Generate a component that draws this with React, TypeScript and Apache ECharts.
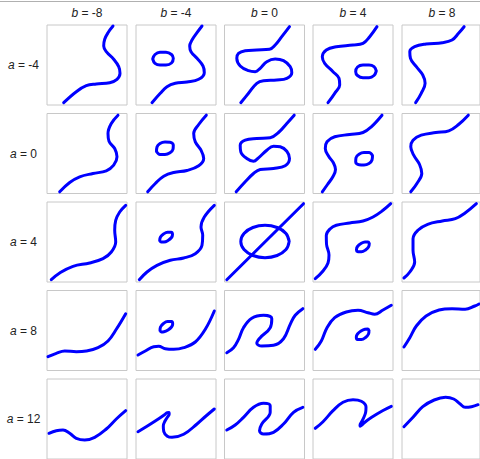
import React, { useEffect, useRef } from "react";
import * as echarts from "echarts";

const A_VALUES = [-4, 0, 4, 8, 12];
const B_VALUES = [-8, -4, 0, 4, 8];

// Curves, panel-local coordinates (x right, y down, 0..80)
const r1c1 = [[16.7,77.7],[29.3,66.7],[39.3,60.7],[49.3,59],[62.7,57.7],[70,54.3],[73,48.3],[71.7,41.7],[66.7,34.3],[59.3,26.7],[56.7,21],[57.7,14.3],[61,7.7],[66,1]];
const r1c2 = [[16,77.7],[24.3,68.3],[31,61.7],[39.3,58.3],[51,57],[62.7,54.3],[68.3,47.7],[67,41],[61,33.3],[55,26.7],[53.7,21],[56,15],[61,7.7],[66,1]];
const r1c2Loop = [[16.7,34],[19,29.5],[24,27.3],[30,27.3],[35.5,29.5],[37.3,33.3],[35.5,38],[30,40],[24,40],[19,38.3],[16.7,34]];
const r1c3 = [[16.3,77.7],[24,68.3],[32.3,58.3],[39,55.7],[52.3,55],[62.3,53.3],[67.3,47.7],[65.7,41.7],[59,35.7],[50.7,34],[42.3,36.7],[35.7,43.3],[30.7,46.7],[24,45.7],[15.7,41],[12.3,33.3],[14,28.3],[20.7,25.7],[32.3,25],[45,24.3],[50.7,20],[57.3,11.7],[65,1.7]];
const r1c4 = [[15,77.7],[21.7,68.3],[26.7,60],[26,53.3],[20,46.7],[11.7,38.3],[9.3,31.7],[13.3,25],[23.3,21.7],[40,20],[50,18.3],[56.7,11.7],[64,1.7]];
const r1c4Loop = [[63.3,46],[61,50.5],[56,52.7],[50,52.7],[44.5,50.5],[42.7,46.7],[44.5,42],[50,40],[56,40],[61,41.7],[63.3,46]];
const r1c5 = [[14,77.7],[19.7,68.3],[23.7,58.3],[21.3,50],[14.7,41.7],[8.7,33.3],[8,26.7],[13,21.7],[24.7,19],[41.3,17.7],[51.3,15],[58,8.3],[63.7,1.7]];

const r2c1 = [[12.7,78.3],[22.7,69],[32.7,63.3],[46,60],[59.3,57.3],[66.7,51.7],[70,43.3],[67.7,35],[62,27.7],[61,20],[64.3,10],[71,1.7]];
const r2c2 = [[11.7,78.3],[19.3,70],[27.7,62.7],[37.7,59],[51,57],[62.7,52.3],[67.7,45],[65,36.7],[59.3,28.3],[57.7,20],[62.7,11],[70.3,1.7]];
const r2c2Loop = [[20.5,38],[21,33.5],[24,30],[29,28.5],[34,28.7],[37.3,31.5],[37,35.7],[34,39.3],[29,41],[24,41],[20.5,38]];
const r2c3 = [[11.7,78.3],[20.7,68.3],[29,60],[35.7,56],[49,55],[60.7,52.3],[65,45],[62.3,37.7],[55.7,33.3],[49,32.7],[42.3,36.7],[34,44.3],[29,47.7],[22.3,45],[16.3,38.3],[15.7,31.7],[20.7,26.7],[32.3,25],[45.7,24.3],[54,19],[62.3,10],[69.7,1.7]];
const r2c4 = [[9.3,78.3],[14.5,71],[20,63],[22.5,56],[20.5,49.5],[15.5,42.5],[12.3,35],[14,28.3],[21.7,23.3],[36.7,21],[50,19],[58.3,13.3],[69,1.7]];
const r2c4Loop = [[59.5,42],[59,46.5],[56,50],[51,51.5],[46,51.3],[42.7,48.5],[43,44.3],[46,40.7],[51,39],[56,39],[59.5,42]];
const r2c5 = [[9,78.3],[15.3,70],[20.3,60],[18,51],[12,41.7],[9,33.3],[11.3,26.7],[19.7,21.7],[34.7,19],[48,17.3],[58,11],[68,1.7]];

const r3c1 = [[4.3,77.7],[12.7,71],[26,64.3],[42.7,61],[56,56.7],[64.3,50],[68.7,40],[67.7,28.3],[68.7,18.3],[72.7,10],[78.7,3.3]];
const r3c2 = [[3.3,77.7],[11,70],[21,63.3],[34.3,58.3],[47.7,56],[59.3,51.7],[66,43.3],[66.7,33.3],[65,25],[68.3,15],[78.3,3.3]];
const r3c2Loop = [[23.7,38.5],[24.5,35],[27.5,32],[31.5,30.2],[35,30.3],[36.5,32.5],[35.5,35.5],[32,38.5],[28,40],[25,40],[23.7,38.5]];
const r3c3Line = [[2.3,77.7],[79,1.7]];
const r3c3Loop = [[64.7,39.5],[61.5,31.4],[52.6,25.5],[40.5,23.3],[28.4,25.5],[19.5,31.4],[16.3,39.5],[19.5,47.6],[28.4,53.5],[40.5,55.7],[52.6,53.5],[61.5,47.6],[64.7,39.5]];
const r3c4 = [[2.3,76.7],[10,69],[15,61],[16,53],[13.5,42],[13.3,33.5],[17,27],[23.3,23.3],[36.7,21],[50,19],[60,15],[70,8.3],[77.7,1.7]];
const r3c4Loop = [[56.3,41.5],[55.5,45],[52.5,48],[48.5,49.8],[45,49.7],[43.5,47.5],[44.5,44.5],[48,41.5],[52,40],[55,40],[56.3,41.5]];
const r3c5 = [[2,76],[8,70],[13,60],[11.3,48.3],[11.3,36.7],[16.3,28.3],[26.3,22.3],[41.3,19],[54.7,16.7],[64.7,11],[76.3,1.7]];

const r4c1 = [[1,66.2],[9.3,62.8],[17.7,60.5],[29.3,61.2],[39.3,60.5],[51,57.2],[61,50.5],[69.3,38.8],[78.7,23.2]];
const r4c2 = [[2,64.5],[9.3,60.5],[17.7,56.2],[22.7,55.8],[29.3,58.2],[37.7,58.8],[47.7,57.2],[59.3,51.5],[69.3,38.8],[78.3,20.5]];
const r4c2Loop = [[24,40],[24.5,36.5],[27.5,33],[31.5,31],[35.5,31],[36.7,33.5],[35.5,36.5],[32,39.5],[28,41.3],[25.3,41.5],[24,40]];
const r4c3 = [[2.3,62.2],[9,57.2],[14,48.8],[19,37.2],[27.3,27.8],[39,24.8],[47.3,28.2],[45.7,37.2],[35.7,47.2],[32.3,52.8],[37.3,55.5],[49,54.8],[59,48.2],[65.7,33.8],[70.7,24.8],[78.3,18.2]];
const r4c4 = [[2.3,58.8],[8.3,50.5],[14,37.2],[21.7,27.2],[33.3,21.5],[45,19.8],[55,22.2],[61.7,23.8],[70,19.5],[78.3,14.8]];
const r4c4Loop = [[56,40],[55.5,43.5],[52.5,47],[48.5,49],[44.5,49],[43.3,46.5],[44.5,43.5],[48,40.5],[52,38.7],[54.7,38.5],[56,40]];
const r4c5 = [[2,56.5],[8,47.2],[14.7,35.5],[24.7,25.5],[38,19.5],[51.3,18.2],[64.7,18.8],[74.7,15.5],[79,13.5]];

const r5c1 = [[2,54.3],[9.3,51.7],[16,51],[22.7,54.3],[29.3,59.3],[37.7,61],[47.7,58.3],[59.3,50],[69.3,40],[78.7,31.7]];
const r5c2 = [[2,52.7],[11,47.3],[22.7,39.8],[28.5,35.8],[31.3,33.6],[33,33.4],[33.2,35],[31.5,38],[29,42],[27.3,47],[27.8,52.7],[31.3,57.2],[36,58.3],[47.7,55.3],[61,45],[70,37],[78.3,30]];
const r5c3 = [[2.3,51],[10.7,46],[19,38.3],[29,28.3],[39,24.3],[45.7,26.7],[45.7,33.3],[37.3,45],[35,51.7],[39,55],[49,53.3],[59,45],[69,33.3],[78.3,28.3]];
const r5c4 = [[2.3,49.3],[10,42.7],[20,31.7],[30,23.3],[40,20.7],[48.3,22.3],[53,28],[52.7,33],[51,38],[48.5,43],[47,46.4],[47.2,47.2],[48.7,46.2],[51.5,43.5],[58.3,38.5],[70,31.5],[78.3,27.3]];
const r5c5 = [[2,47.7],[11.3,38.3],[21.3,27.7],[33,21],[44.7,18.3],[53,20],[59.7,25],[64.7,28.3],[71.3,27.7],[78,25.7]];

const PANELS: number[][][][][] = [
  [[r1c1], [r1c2, r1c2Loop], [r1c3], [r1c4, r1c4Loop], [r1c5]],
  [[r2c1], [r2c2, r2c2Loop], [r2c3], [r2c4, r2c4Loop], [r2c5]],
  [[r3c1], [r3c2, r3c2Loop], [r3c3Line, r3c3Loop], [r3c4, r3c4Loop], [r3c5]],
  [[r4c1], [r4c2, r4c2Loop], [r4c3], [r4c4, r4c4Loop], [r4c5]],
  [[r5c1], [r5c2], [r5c3], [r5c4], [r5c5]],
];

const LEFTS = [47, 136, 224.5, 313, 402];
const TOPS = [25, 113.5, 202, 290.5, 379];
const SIZE = 80;

export default function App() {
  const ref = useRef<HTMLDivElement>(null);
  useEffect(() => {
    if (!ref.current) return;
    const chart = echarts.init(ref.current, undefined, { renderer: "svg" });
    const grid: any[] = [];
    const xAxis: any[] = [];
    const yAxis: any[] = [];
    const series: any[] = [];
    const graphic: any[] = [];
    let idx = 0;
    for (let r = 0; r < 5; r++) {
      for (let c = 0; c < 5; c++) {
        grid.push({
          left: LEFTS[c], top: TOPS[r], width: SIZE, height: SIZE,
          show: true, borderColor: "#c8c8c8", borderWidth: 1, backgroundColor: "#fff",
        });
        xAxis.push({ type: "value", gridIndex: idx, min: 0, max: SIZE, show: false });
        yAxis.push({ type: "value", gridIndex: idx, min: 0, max: SIZE, inverse: true, show: false });
        PANELS[r][c].forEach((d, k) => {
          const straight = r === 2 && c === 2 && k === 0;
          series.push({
            type: "line", xAxisIndex: idx, yAxisIndex: idx, data: d,
            showSymbol: false, symbol: "none", smooth: straight ? false : 0.4,
            lineStyle: { color: "#0000ff", width: 3, cap: "round", join: "round" },
            silent: true, clip: true,
          });
        });
        idx++;
      }
    }
    const font = "Liberation Sans, Arial, sans-serif";
    B_VALUES.forEach((b, c) => {
      graphic.push({
        type: "text", x: LEFTS[c] + SIZE / 2, y: 13,
        style: {
          text: `{i|b} = ${b}`, align: "center", verticalAlign: "middle",
          fontFamily: font, fontSize: 12, fill: "#222",
          rich: { i: { fontStyle: "italic", fontFamily: font, fontSize: 12, fill: "#222" } },
        },
      });
    });
    A_VALUES.forEach((a, r) => {
      graphic.push({
        type: "text", x: 23.5, y: TOPS[r] + SIZE / 2,
        style: {
          text: `{i|a} = ${a}`, align: "center", verticalAlign: "middle",
          fontFamily: font, fontSize: 12, fill: "#222",
          rich: { i: { fontStyle: "italic", fontFamily: font, fontSize: 12, fill: "#222" } },
        },
      });
    });
    graphic.push({
      type: "line", shape: { x1: 0, y1: 1.5, x2: 480, y2: 1.5 },
      style: { stroke: "#b0b0b0", lineWidth: 1 },
    });
    chart.setOption({
      animation: false,
      backgroundColor: "#fff",
      grid, xAxis, yAxis, series, graphic,
    });
    return () => chart.dispose();
  }, []);
  return (
    <div
      ref={ref}
      style={{ position: "fixed", left: 0, top: 0, width: 480, height: 459 }}
    />
  );
}
